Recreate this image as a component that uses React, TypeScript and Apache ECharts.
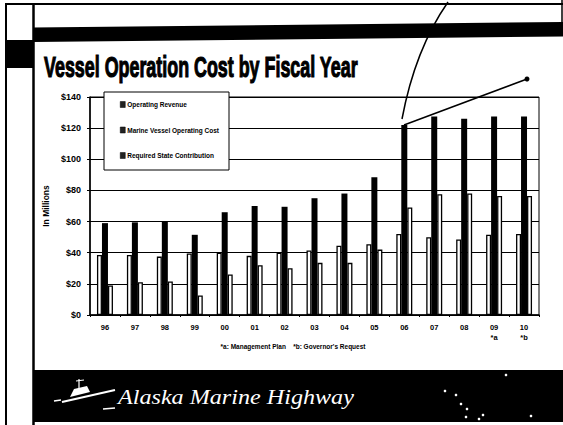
import React, { useEffect, useRef } from 'react';
import * as echarts from 'echarts';

const categories = ['96', '97', '98', '99', '00', '01', '02', '03', '04', '05', '06', '07', '08', '09', '10'];
const footMarks = ['', '', '', '', '', '', '', '', '', '', '', '', '', '*a', '*b'];
const operatingRevenue = [38.5, 38.5, 37.5, 39.5, 40, 38, 40, 41.5, 44.5, 45.5, 52, 50, 48.5, 51.5, 52];
const vesselCost = [59, 59.5, 60, 51.5, 66, 70, 69.5, 75, 78, 88.5, 122, 127.5, 126, 127.5, 127.5];
const stateContribution = [19, 21, 21.5, 12.5, 26, 32, 30, 33.5, 33.5, 42, 69, 77.5, 78, 76.5, 76.5];
const seriesNames = ['Operating Revenue', 'Marine Vessel Operating Cost', 'Required State Contribution'];
const titleText = 'Vessel Operation Cost by Fiscal Year';
const footnoteText = '*a: Management Plan    *b: Governor\'s Request';
const brandText = 'Alaska Marine Highway';
const starDots = [[506, 375], [445, 391], [456, 395], [461, 404], [467, 409], [466, 417], [483, 415], [479, 419], [531, 416]];

function measure(text: string, font: string): number {
  const ctx = document.createElement('canvas').getContext('2d');
  if (!ctx) return 1;
  ctx.font = font;
  return ctx.measureText(text).width || 1;
}

export default function App() {
  const ref = useRef<HTMLDivElement>(null);
  useEffect(() => {
    document.body.style.margin = '0';
    const chart = echarts.init(ref.current!, null, { renderer: 'svg' });
    const titleFamily = '"Liberation Sans Narrow", "Liberation Sans", Arial, sans-serif';
    const titleW = measure(titleText, `bold 30px ${titleFamily}`);
    const titleScale = 314 / titleW;
    const brandFamily = '"Liberation Serif", "DejaVu Serif", serif';
    const brandW = measure(brandText, `italic 20px ${brandFamily}`);
    const brandScale = 236 / brandW;

    const graphics: any[] = [
      { type: 'line', shape: { x1: 5, y1: 4, x2: 563, y2: 4 }, style: { stroke: '#000', lineWidth: 2 } },
      { type: 'line', shape: { x1: 6, y1: 3, x2: 6, y2: 425 }, style: { stroke: '#000', lineWidth: 2 } },
      { type: 'line', shape: { x1: 33.5, y1: 3, x2: 33.5, y2: 425 }, style: { stroke: '#000', lineWidth: 2.5 } },
      { type: 'line', shape: { x1: 562, y1: 0, x2: 562, y2: 22 }, style: { stroke: '#000', lineWidth: 1.5 } },
      { type: 'rect', shape: { x: 7, y: 40, width: 26, height: 28 }, style: { fill: '#000' } },
      { type: 'polygon', shape: { points: [[33, 27.5], [563, 22], [563, 36.5], [33, 42]] }, style: { fill: '#000' } },
      {
        type: 'text', x: 44, y: 67, scaleX: titleScale,
        style: {
          text: titleText, fontFamily: titleFamily, fontSize: 30, fontWeight: 'bold', fill: '#000',
          stroke: '#000', lineWidth: 1.2, align: 'left', verticalAlign: 'middle',
        },
      },
      {
        type: 'bezierCurve',
        shape: { x1: 448, y1: 2, cpx1: 415, cpy1: 49.5, x2: 402, y2: 119 },
        style: { stroke: '#000', lineWidth: 1.5, fill: 'none' },
      },
      { type: 'line', shape: { x1: 404, y1: 125, x2: 527, y2: 79 }, style: { stroke: '#000', lineWidth: 1.5 } },
      { type: 'circle', shape: { cx: 527, cy: 79, r: 2.5 }, style: { fill: '#000' } },
      {
        type: 'text', x: 293, y: 346,
        style: { text: footnoteText, fontFamily: '"Liberation Sans", Arial, sans-serif', fontSize: 6.5, fontWeight: 'bold', fill: '#000', align: 'center', verticalAlign: 'middle' },
      },
      { type: 'rect', shape: { x: 34, y: 370, width: 529, height: 52 }, style: { fill: '#000' } },
      {
        type: 'text', x: 118, y: 397, scaleX: brandScale,
        style: { text: brandText, fontFamily: brandFamily, fontSize: 20, fontStyle: 'italic', fill: '#fff', align: 'left', verticalAlign: 'middle' },
      },
      { type: 'line', shape: { x1: 54, y1: 401, x2: 61, y2: 400 }, style: { stroke: '#fff', lineWidth: 1.5 } },
      { type: 'line', shape: { x1: 62, y1: 402, x2: 115, y2: 390 }, style: { stroke: '#fff', lineWidth: 2 } },
      { type: 'polygon', shape: { points: [[70, 397], [90, 392], [87, 386], [74, 389]] }, style: { fill: '#fff' } },
      { type: 'line', shape: { x1: 79, y1: 379, x2: 79, y2: 389 }, style: { stroke: '#fff', lineWidth: 1.2 } },
      { type: 'line', shape: { x1: 76, y1: 381, x2: 84, y2: 380 }, style: { stroke: '#fff', lineWidth: 1 } },
      { type: 'line', shape: { x1: 103, y1: 409, x2: 115, y2: 408 }, style: { stroke: '#fff', lineWidth: 1.5 } },
      ...starDots.map(([cx, cy]) => ({ type: 'circle', shape: { cx, cy, r: 1.3 }, style: { fill: '#fff' } })),
    ];

    const labelFont = '"Liberation Sans", Arial, sans-serif';
    chart.setOption({
      animation: false,
      backgroundColor: '#fff',
      graphic: graphics,
      legend: {
        data: seriesNames,
        orient: 'vertical',
        left: 104,
        top: 92,
        padding: [9, 10, 11, 16],
        itemGap: 18.5,
        itemWidth: 5,
        itemHeight: 6,
        icon: 'rect',
        itemStyle: { color: '#222', borderColor: '#000', borderWidth: 0.5 },
        backgroundColor: '#fff',
        borderColor: '#000',
        borderWidth: 1,
        textStyle: { fontFamily: labelFont, fontSize: 6.5, fontWeight: 'bold', color: '#000', lineHeight: 6, padding: [0, 0, 0, -3] },
      },
      grid: {
        left: 90, right: 24, top: 97, bottom: 110,
        show: true, borderColor: '#000', borderWidth: 1,
        containLabel: false, outerBoundsMode: 'none',
      },
      xAxis: {
        type: 'category',
        data: categories,
        axisLine: { show: true, lineStyle: { color: '#000', width: 1.5 } },
        axisTick: { show: true, length: 2, lineStyle: { color: '#000' } },
        axisLabel: {
          margin: 7,
          fontFamily: labelFont, fontSize: 7.5, fontWeight: 'bold', color: '#000', lineHeight: 10,
          formatter: (v: string, i: number) => (footMarks[i] ? `${v}\n${footMarks[i]}` : v),
        },
      },
      yAxis: {
        type: 'value',
        min: 0, max: 140, interval: 20,
        name: 'In Millions',
        nameLocation: 'middle',
        nameGap: 35,
        nameTextStyle: { fontFamily: labelFont, fontSize: 8.5, fontWeight: 'bold', color: '#000' },
        axisLine: { show: true, lineStyle: { color: '#000', width: 1.5 } },
        axisTick: { show: true, length: 3, lineStyle: { color: '#000' } },
        axisLabel: { margin: 9, fontFamily: labelFont, fontSize: 9, fontWeight: 'bold', color: '#000', formatter: (v: number) => `$${v}` },
        splitLine: { show: true, lineStyle: { color: '#000', width: 1 } },
      },
      series: [
        { name: seriesNames[0], type: 'bar', data: operatingRevenue, barWidth: 5, barGap: '0%', itemStyle: { color: '#fff', borderColor: '#000', borderWidth: 1.3 } },
        { name: seriesNames[1], type: 'bar', data: vesselCost, barWidth: 6, barGap: '0%', itemStyle: { color: '#000' } },
        { name: seriesNames[2], type: 'bar', data: stateContribution, barWidth: 5, barGap: '0%', itemStyle: { color: '#fff', borderColor: '#000', borderWidth: 1.3 } },
      ],
    });
    return () => chart.dispose();
  }, []);
  return <div ref={ref} style={{ position: 'absolute', left: 0, top: 0, width: 563, height: 425 }} />;
}
